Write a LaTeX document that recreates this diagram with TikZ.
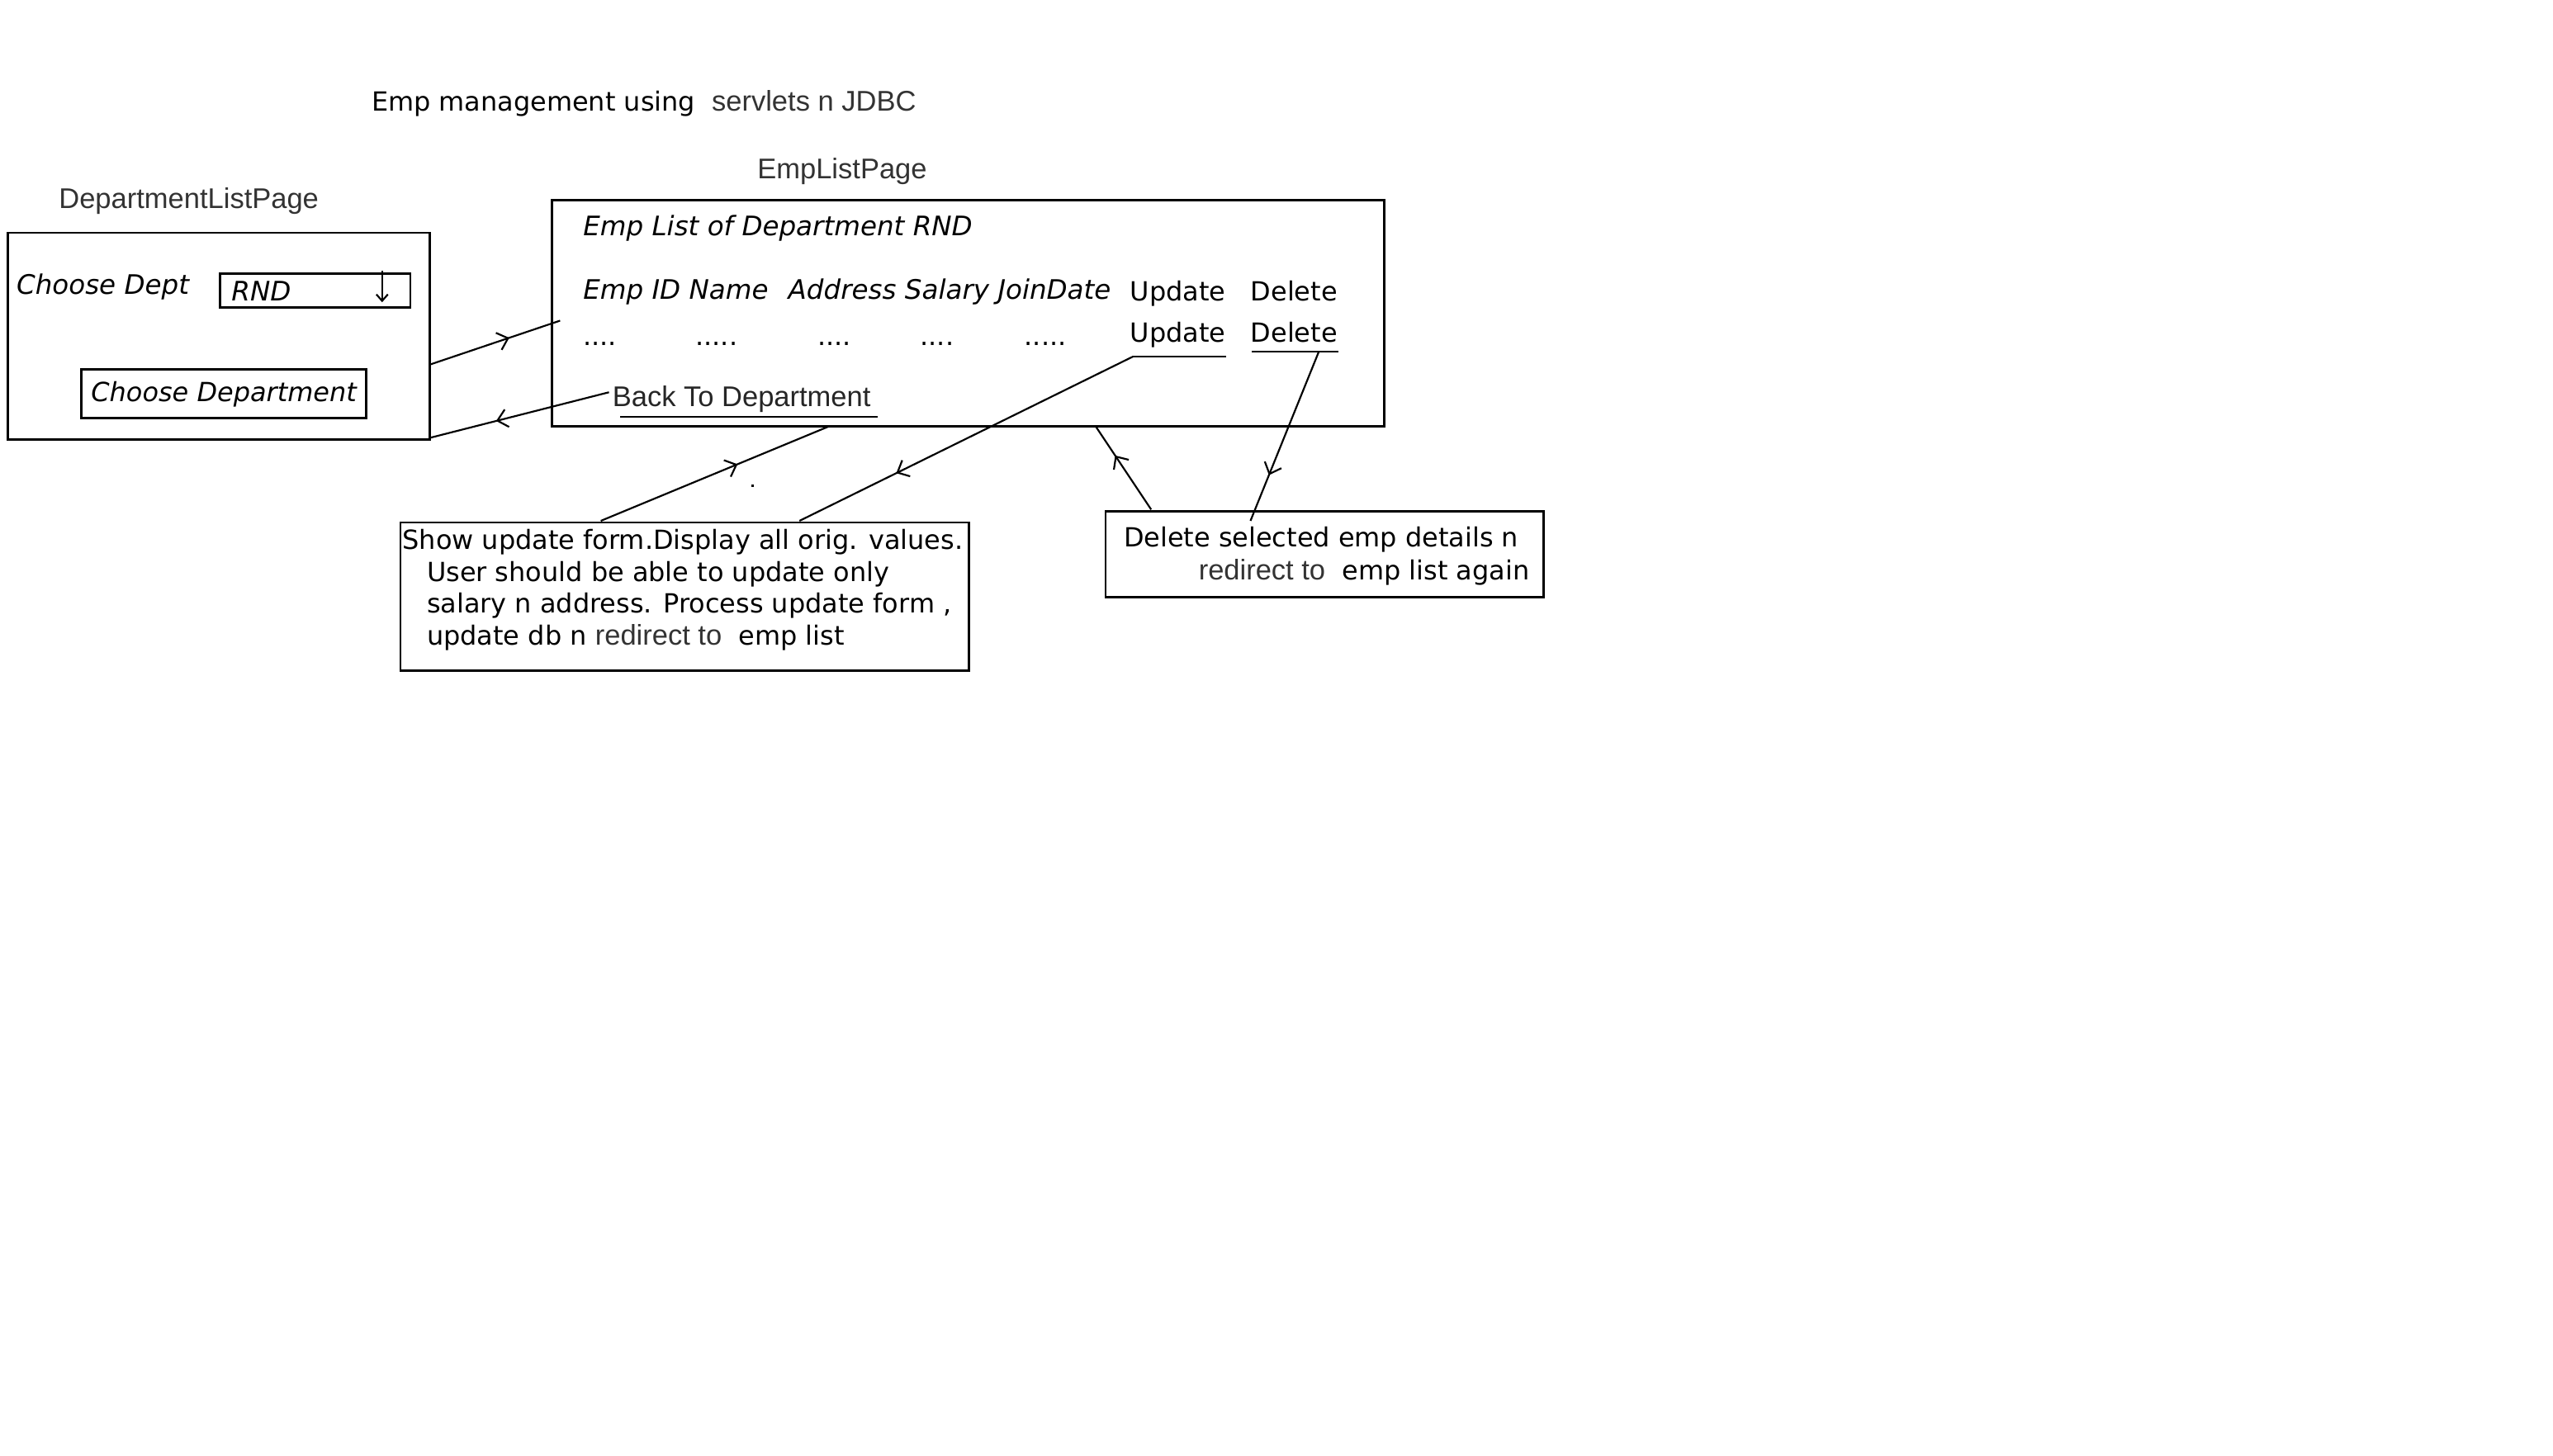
\documentclass[tikz,border=0pt]{standalone}
\usepackage{fontspec}
\setmainfont{DejaVu Sans}
\newfontfamily\arialfont{Liberation Sans}
\usetikzlibrary{arrows.meta,decorations.markings}

\tikzset{
  box/.style={draw, line width=1.4pt, rectangle, inner sep=0pt},
  txt/.style={anchor=base west, inner sep=0pt, font=\fontsize{16.2}{19.6}\selectfont},
  itxt/.style={txt, font=\fontsize{16.5}{19.6}\selectfont\itshape},
  pagelbl/.style={anchor=base west, inner sep=0pt, text=black!80, font=\fontsize{17.5}{20}\selectfont\arialfont},
  link/.style={line width=1.1pt},
  midarrow/.style={postaction={decorate}, decoration={markings,
      mark=at position #1 with {\arrow{Straight Barb[length=6pt,width=11pt,line width=1.1pt]}}}}
}
\newcommand{\grey}[1]{{\arialfont\color{black!80}\fontsize{17.5}{19.6}\selectfont #1}}

\begin{document}
\begin{tikzpicture}[x=1pt,y=-1pt]
  \useasboundingbox (0,0) rectangle (1568,894.5);

  % titles
  \node[txt] (title) at (228,68) {Emp management using};
  \node[pagelbl] (tech) at (437,68) {servlets n JDBC};
  \node[pagelbl] (deptlbl) at (36,128) {DepartmentListPage};
  \node[pagelbl] (emplbl) at (465,110) {EmpListPage};

  % DepartmentListPage
  \node[box, minimum width=259pt, minimum height=127pt] (dept) at (134.5,206.5) {};
  \node[itxt] (choose) at (10,181) {Choose Dept};
  \node[box, minimum width=117pt, minimum height=21pt] (rnd) at (193.5,178.5) {};
  \node[itxt] (rndtxt) at (142,185) {RND};
  \draw[link, -{Straight Barb[length=4pt,width=7pt]}] ([xshift=-18pt,yshift=1pt]rnd.north east) -- ([xshift=-18pt,yshift=4pt]rnd.south east);
  \node[box, minimum width=175pt, minimum height=30pt, font=\fontsize{16.2}{19.6}\selectfont\itshape] (btn) at (137.5,242) {Choose Department};

  % EmpListPage
  \node[box, minimum width=511pt, minimum height=139pt] (emp) at (594.5,192.5) {};
  \node[itxt] (emptitle) at (358,145) {Emp List of Department RND};
  \node[itxt] (header) at (358,184) {Emp ID Name\hspace*{7pt} Address Salary JoinDate};
  \node[txt] (hupd) at (694,185) {Update};
  \node[txt] (hdel) at (768,185) {Delete};
  \node[txt] (d1) at (358,212) {....};
  \node[txt] (d2) at (427,212) {.....};
  \node[txt] (d3) at (502,212) {....};
  \node[txt] (d4) at (565,212) {....};
  \node[txt] (d5) at (629,212) {.....};
  \node[txt] (upd) at (694,210) {Update};
  \node[txt] (del) at (768,210) {Delete};
  \node[pagelbl, text=black!85] (back) at (376,250) {Back To Department};

  \coordinate (updl) at (696,219);
  \coordinate (updr) at (753,219);
  \coordinate (dell) at (769,216);
  \coordinate (delr) at (822,216);
  \coordinate (delm) at (810,216);
  \coordinate (backl) at (381,256);
  \coordinate (backr) at (539,256);
  \draw[link] (updl) -- (updr);
  \draw[link] (dell) -- (delr);
  \draw[link] (backl) -- (backr);

  % update and delete notes
  \node[box, minimum width=349pt, minimum height=91pt] (updbox) at (420.5,366.5) {};
  \node[txt, anchor=north west, align=left] (updnote) at (247,325)
    {Show update form.Display all orig. values.\\
     \hspace*{15pt}User should be able to update only\\
     \hspace*{15pt}salary n address. Process update form ,\\
     \hspace*{15pt}update db n \grey{redirect to}\ \ emp list};
  \node[box, minimum width=269pt, minimum height=53pt] (delbox) at (813.5,340.5) {};
  \node[txt] (delnote1) at (690,336) {Delete selected emp details n};
  \node[txt] (delnote2) at (736,356) {\grey{redirect to}\ \ emp list again};
  \fill (461.5,297.5) rectangle (463,299);

  % connectors
  \coordinate (deptout) at (264,224);
  \coordinate (empin) at (344,197);
  \coordinate (backout) at (374,241);
  \coordinate (deptin) at (264,269);
  \coordinate (updtop) at (369,320);
  \coordinate (empbot) at (509,262);
  \coordinate (updtop2) at (491,320);
  \coordinate (deltop) at (768,320);
  \coordinate (deltop2) at (707,313);
  \coordinate (empbot2) at (673,262);

  \draw[link, midarrow=0.61] (deptout) -- (empin);
  \draw[link, midarrow=0.63] (backout) -- (deptin);
  \draw[link, midarrow=0.6] (updtop) -- (empbot);
  \draw[link, midarrow=0.71] (updl) -- (updtop2);
  \draw[link, midarrow=0.73] (delm) -- (deltop);
  \draw[link, midarrow=0.65] (deltop2) -- (empbot2);
\end{tikzpicture}
\end{document}
